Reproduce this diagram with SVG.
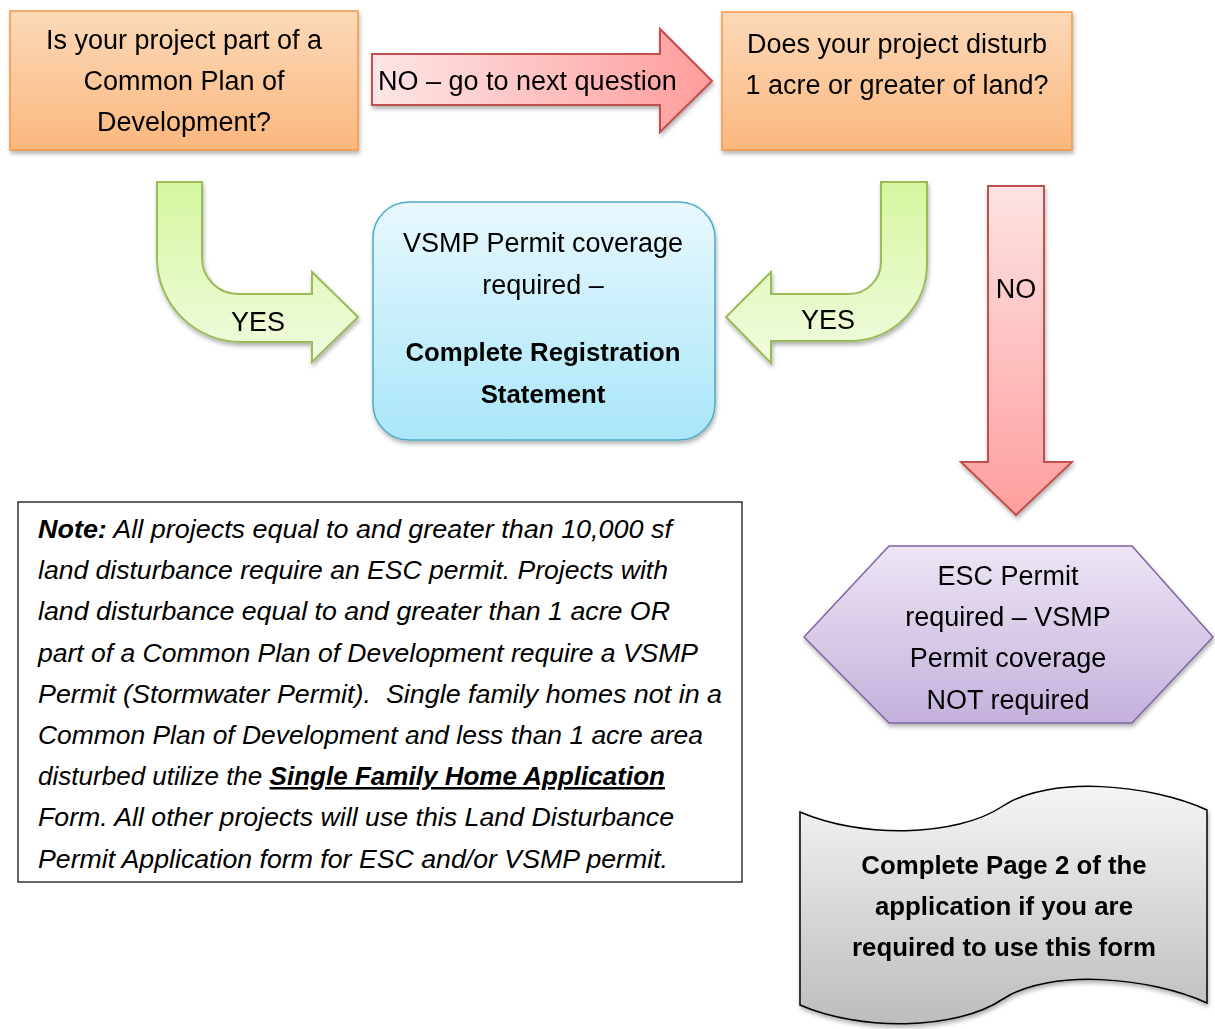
<svg xmlns="http://www.w3.org/2000/svg" width="1215" height="1029" viewBox="0 0 1215 1029">
<defs>
  <linearGradient id="gOrange" x1="0" y1="0" x2="0" y2="1">
    <stop offset="0" stop-color="#fcd9b8"/>
    <stop offset="1" stop-color="#fbb77e"/>
  </linearGradient>
  <linearGradient id="gRedH" x1="0" y1="0" x2="1" y2="0">
    <stop offset="0" stop-color="#fde6e6"/>
    <stop offset="1" stop-color="#ff9c9c"/>
  </linearGradient>
  <linearGradient id="gRedV" x1="0" y1="0" x2="0" y2="1">
    <stop offset="0" stop-color="#fde3e3"/>
    <stop offset="1" stop-color="#ff9e9e"/>
  </linearGradient>
  <linearGradient id="gGreen" x1="0" y1="0" x2="0" y2="1">
    <stop offset="0" stop-color="#d5f7a0"/>
    <stop offset="1" stop-color="#f1fbe0"/>
  </linearGradient>
  <linearGradient id="gBlue" x1="0" y1="0" x2="0" y2="1">
    <stop offset="0" stop-color="#e8f8fd"/>
    <stop offset="1" stop-color="#a9e6f8"/>
  </linearGradient>
  <linearGradient id="gPurple" x1="0" y1="0" x2="0" y2="1">
    <stop offset="0" stop-color="#ede5f4"/>
    <stop offset="1" stop-color="#c4b1dc"/>
  </linearGradient>
  <linearGradient id="gGray" x1="0" y1="0" x2="0" y2="1">
    <stop offset="0" stop-color="#f5f5f5"/>
    <stop offset="1" stop-color="#bdbdbd"/>
  </linearGradient>
  <filter id="shadow" x="-10%" y="-10%" width="120%" height="130%">
    <feDropShadow dx="1" dy="3" stdDeviation="2" flood-color="#000" flood-opacity="0.3"/>
  </filter>
</defs>
<style>
  .t { font-family: "Liberation Sans", Arial, sans-serif; font-size: 27px; fill: #000; }
  .c { text-anchor: middle; }
  .b { font-weight: bold; font-size: 25.8px; }
  .note { font-family: "Liberation Sans", Arial, sans-serif; font-size: 25px; font-style: italic; fill: #000; }
  .orange { fill: url(#gOrange); stroke: #f79646; stroke-width: 1.5; }
  .green { fill: url(#gGreen); stroke: #9bbb59; stroke-width: 2; }
  .red { stroke: #c0504d; stroke-width: 2; }
</style>

<g id="node-common-plan" filter="url(#shadow)">
  <rect class="orange" x="10" y="11" width="348" height="139"/>
  <text class="t c" x="184" y="49">Is your project part of a</text>
  <text class="t c" x="184" y="90">Common Plan of</text>
  <text class="t c" x="184" y="131">Development?</text>
</g>

<g id="node-disturb" filter="url(#shadow)">
  <rect class="orange" x="722" y="12" width="350" height="138"/>
  <text class="t c" x="897" y="53">Does your project disturb</text>
  <text class="t c" x="897" y="94">1 acre or greater of land?</text>
</g>

<g id="node-vsmp" filter="url(#shadow)">
  <rect x="373" y="202" width="342" height="238" rx="36" ry="36" fill="url(#gBlue)" stroke="#4bacc6" stroke-width="1.5"/>
  <text class="t c" x="543" y="252">VSMP Permit coverage</text>
  <text class="t c" x="543" y="294">required –</text>
  <text class="t c b" x="543" y="361">Complete Registration</text>
  <text class="t c b" x="543" y="403">Statement</text>
</g>

<g id="node-esc" filter="url(#shadow)">
  <polygon points="804,637 889,546 1132,546 1213,637 1132,723 889,723" fill="url(#gPurple)" stroke="#8064a2" stroke-width="1.5"/>
  <text class="t c" x="1008" y="585">ESC Permit</text>
  <text class="t c" x="1008" y="626">required – VSMP</text>
  <text class="t c" x="1008" y="667">Permit coverage</text>
  <text class="t c" x="1008" y="709">NOT required</text>
</g>

<g id="node-page2" filter="url(#shadow)">
  <path d="M800,812 C860,838 955,838 1003,806 C1050,775 1150,784 1207,810 L1207,1003 C1150,977 1050,968 1003,999 C955,1031 860,1031 800,1005 Z" fill="url(#gGray)" stroke="#000" stroke-width="1.5"/>
  <text class="t c b" x="1004" y="874">Complete Page 2 of the</text>
  <text class="t c b" x="1004" y="915">application if you are</text>
  <text class="t c b" x="1004" y="956">required to use this form</text>
</g>

<g id="node-note">
  <rect x="18" y="502" width="724" height="380" fill="#fff" stroke="#000" stroke-width="1.2"/>
  <text class="note" x="38" y="538" textLength="634" lengthAdjust="spacingAndGlyphs"><tspan font-weight="bold">Note:</tspan> All projects equal to and greater than 10,000 sf</text>
  <text class="note" x="38" y="579" textLength="630" lengthAdjust="spacingAndGlyphs">land disturbance require an ESC permit. Projects with</text>
  <text class="note" x="38" y="620" textLength="632" lengthAdjust="spacingAndGlyphs">land disturbance equal to and greater than 1 acre OR</text>
  <text class="note" x="38" y="662" textLength="660" lengthAdjust="spacingAndGlyphs">part of a Common Plan of Development require a VSMP</text>
  <text class="note" x="38" y="703" textLength="684" lengthAdjust="spacingAndGlyphs" xml:space="preserve">Permit (Stormwater Permit).  Single family homes not in a</text>
  <text class="note" x="38" y="744" textLength="665" lengthAdjust="spacingAndGlyphs">Common Plan of Development and less than 1 acre area</text>
  <text class="note" x="38" y="785" textLength="627" lengthAdjust="spacingAndGlyphs">disturbed utilize the <tspan font-weight="bold" text-decoration="underline">Single Family Home Application</tspan></text>
  <text class="note" x="38" y="826" textLength="636" lengthAdjust="spacingAndGlyphs">Form. All other projects will use this Land Disturbance</text>
  <text class="note" x="38" y="868" textLength="630" lengthAdjust="spacingAndGlyphs">Permit Application form for ESC and/or VSMP permit.</text>
</g>

<g id="connectors">
  <g id="arrow-no-next" filter="url(#shadow)">
    <path class="red" fill="url(#gRedH)" d="M372,54 L660,54 L660,29 L712,81 L660,132 L660,105 L372,105 Z"/>
    <text class="t" x="378" y="90">NO – go to next question</text>
  </g>
  <g id="arrow-yes-left" filter="url(#shadow)">
    <path class="green" d="M157,182 L202,182 L202,258 A36,36 0 0 0 238,294 L312,294 L312,272 L358,317 L312,362 L312,342 L241,342 A84,84 0 0 1 157,258 Z"/>
    <text class="t c" x="258" y="331">YES</text>
  </g>
  <g id="arrow-yes-right" filter="url(#shadow)">
    <path class="green" d="M927,182 L881,182 L881,262 A32,32 0 0 1 849,294 L771,294 L771,272 L726,317 L771,363 L771,341 L850,341 A77,77 0 0 0 927,264 Z"/>
    <text class="t c" x="828" y="329">YES</text>
  </g>
  <g id="arrow-no-down" filter="url(#shadow)">
    <path class="red" fill="url(#gRedV)" d="M988,186 L1044,186 L1044,462 L1072,462 L1016,515 L961,462 L988,462 Z"/>
    <text class="t c" x="1016" y="298">NO</text>
  </g>
</g>
</svg>
